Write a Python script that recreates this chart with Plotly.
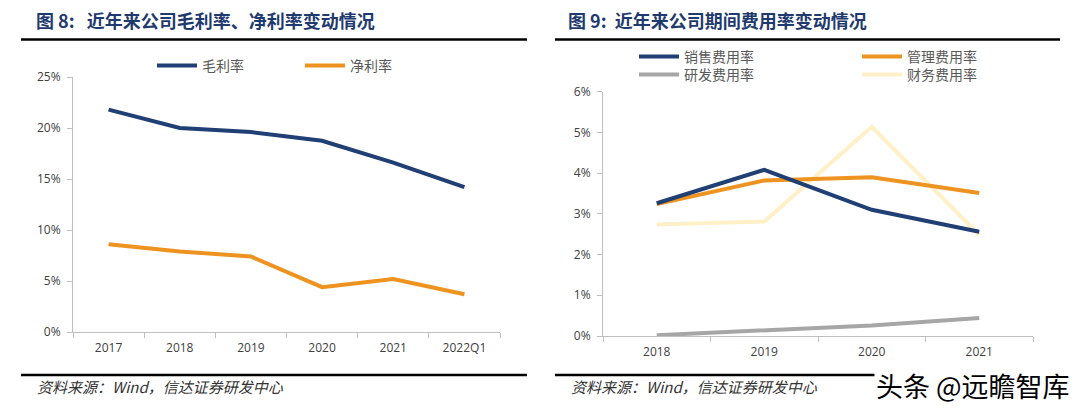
import plotly.graph_objects as go

# ---- data ----
years_left = ["2017", "2018", "2019", "2020", "2021", "2022Q1"]
gross_margin = [21.8, 20.0, 19.6, 18.75, 16.6, 14.2]
net_margin = [8.6, 7.9, 7.4, 4.4, 5.2, 3.7]

years_right = ["2018", "2019", "2020", "2021"]
sales_rate = [3.26, 4.08, 3.10, 2.56]
admin_rate = [3.24, 3.82, 3.90, 3.51]
rd_rate = [0.02, 0.13, 0.26, 0.44]
fin_rate = [2.74, 2.81, 5.14, 2.48]

NAVY = "#203F74"
ORANGE = "#EE9320"
GRAY = "#A6A6A6"
LIGHT = "#FFF0C8"
TXT = "#404040"
W, H = 1080, 409

fig = go.Figure()
# left chart
fig.add_trace(go.Scatter(x=years_left, y=gross_margin, mode="lines", name="毛利率",
                         line=dict(color=NAVY, width=4), xaxis="x", yaxis="y", legend="legend"))
fig.add_trace(go.Scatter(x=years_left, y=net_margin, mode="lines", name="净利率",
                         line=dict(color=ORANGE, width=4), xaxis="x", yaxis="y", legend="legend"))
# right chart
fig.add_trace(go.Scatter(x=years_right, y=fin_rate, mode="lines", name="财务费用率",
                         line=dict(color=LIGHT, width=4), xaxis="x2", yaxis="y2", legend="legend3"))
fig.add_trace(go.Scatter(x=years_right, y=rd_rate, mode="lines", name="研发费用率",
                         line=dict(color=GRAY, width=4), xaxis="x2", yaxis="y2", legend="legend3"))
fig.add_trace(go.Scatter(x=years_right, y=admin_rate, mode="lines", name="管理费用率",
                         line=dict(color=ORANGE, width=4), xaxis="x2", yaxis="y2", legend="legend2"))
fig.add_trace(go.Scatter(x=years_right, y=sales_rate, mode="lines", name="销售费用率",
                         line=dict(color=NAVY, width=4), xaxis="x2", yaxis="y2", legend="legend2"))

def px(x):
    return x / W

def py(y):
    return 1 - y / H

axis_common = dict(showgrid=False, zeroline=False, showline=True, linecolor="#BFBFBF", linewidth=1,
                   ticks="outside", tickcolor="#BFBFBF", ticklen=5,
                   tickfont=dict(family="Open Sans, Liberation Sans", size=12, color=TXT))

font_leg = dict(family="Noto Sans CJK SC", size=14, color="#595959")

fig.update_layout(
    width=W, height=H,
    margin=dict(l=0, r=0, t=0, b=0, autoexpand=False),
    paper_bgcolor="white", plot_bgcolor="white",
    showlegend=True,
    xaxis=dict(domain=[px(73), px(500)], anchor="y", type="category", tickson="boundaries",
               range=[-0.5, len(years_left) - 0.5], ticklabelstandoff=5, **axis_common),
    yaxis=dict(domain=[py(332), py(77)], anchor="x", range=[0, 25], dtick=5, ticksuffix="%",
               ticklabelstandoff=4, **axis_common),
    xaxis2=dict(domain=[px(603), px(1033)], anchor="y2", type="category", tickson="boundaries",
                range=[-0.5, len(years_right) - 0.5], ticklabelstandoff=5, **axis_common),
    yaxis2=dict(domain=[py(336), py(91.7)], anchor="x2", range=[0, 6], dtick=1, ticksuffix="%",
                ticklabelstandoff=4, **axis_common),
    legend=dict(orientation="h", x=px(152), y=py(66), xanchor="left", yanchor="middle",
                font=font_leg, entrywidth=93, entrywidthmode="pixels", bgcolor="rgba(0,0,0,0)",
                itemwidth=40, traceorder="normal"),
    legend2=dict(orientation="h", x=px(634), y=py(57), xanchor="left", yanchor="middle",
                 font=font_leg, entrywidth=168, entrywidthmode="pixels", bgcolor="rgba(0,0,0,0)",
                 itemwidth=40, traceorder="reversed"),
    legend3=dict(orientation="h", x=px(634), y=py(75), xanchor="left", yanchor="middle",
                 font=font_leg, entrywidth=168, entrywidthmode="pixels", bgcolor="rgba(0,0,0,0)",
                 itemwidth=40, traceorder="reversed"),
)

title_font = dict(family="Noto Sans CJK SC", size=18, color="#1F3A6E")
fig.add_annotation(text="<b>图 8:\u00a0\u00a0\u00a0近年来公司毛利率、净利率变动情况</b>", x=px(34), y=py(20),
                   xref="paper", yref="paper", xanchor="left", yanchor="middle",
                   showarrow=False, font=title_font)
fig.add_annotation(text="<b>图 9:\u00a0\u00a0近年来公司期间费用率变动情况</b>", x=px(566), y=py(20),
                   xref="paper", yref="paper", xanchor="left", yanchor="middle",
                   showarrow=False, font=title_font)

foot_font = dict(family="Noto Sans CJK SC", size=15, color="#333333")
for xx in (35, 569):
    fig.add_annotation(text="<i>资料来源：Wind，信达证券研发中心</i>", x=px(xx), y=py(386),
                       xref="paper", yref="paper", xanchor="left", yanchor="middle",
                       showarrow=False, font=foot_font)

# rules
for (x0, x1) in ((21, 527), (555, 1060)):
    for yy in (39.5, 375):
        fig.add_shape(type="line", xref="paper", yref="paper",
                      x0=px(x0), x1=px(x1), y0=py(yy), y1=py(yy),
                      line=dict(color="black", width=2.5))

# watermark
fig.add_annotation(text="头条 @远瞻智库", x=px(1072), y=py(385), xref="paper", yref="paper",
                   xanchor="right", yanchor="middle", showarrow=False,
                   bgcolor="white",
                   font=dict(family="Noto Sans CJK SC", size=27, color="black"))

fig.write_html("out.html", config={"displayModeBar": False},
               post_script="document.body.style.margin='0';document.body.style.padding='0';")
